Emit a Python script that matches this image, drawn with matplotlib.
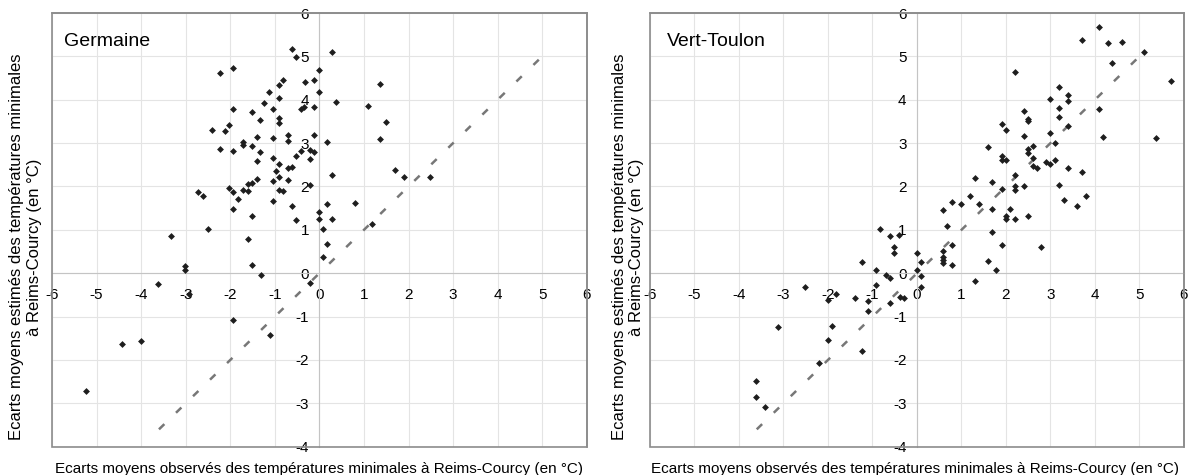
import matplotlib
matplotlib.use('Agg')
import matplotlib.pyplot as plt
from matplotlib.patches import Rectangle

plt.rcParams['font.family'] = ['Liberation Sans', 'DejaVu Sans']
plt.rcParams['axes.unicode_minus'] = False

# Germaine : ecarts observes (x) / estimes (y)
germ_x = [-0.61, -0.52, -2.23, -1.93, -0.82, -0.91, -0.32, -0.11, 0.0, -1.12,
          0.0, -0.91, -1.24, -1.93, -1.03, -1.52, -0.41, -0.34, -0.11, -0.91,
          -0.91, -1.33, -2.02, -2.42, -2.11, -0.11, -0.70, -1.41, -1.03, -1.72,
          -1.72, -0.70, -2.23, -1.52, -1.93, -1.33, -0.41, -0.22, -0.11, -0.52,
          -0.21, -1.03, -1.41, -0.91, -0.70, -0.61, -0.97, -0.91, -1.41, -1.52,
          -1.61, -1.03, -0.70, -0.22, -2.02, -1.93, -1.72, -1.61, -2.72, -2.62,
          -0.91, -0.82, -1.82, -1.03, -0.61, -1.93, -1.52, -0.52, 0.28, 1.37,
          0.38, 1.09, 1.49, 1.37, 0.17, 0.28, 1.69, 1.90, 2.49, 0.79,
          0.17, 0.0, 0.0, 0.28, 1.18, 0.09, -2.51, -3.34, -1.61, -3.01,
          -3.01, -1.52, -1.31, -3.63, -2.92, -1.93, -1.11, -4.42, -4.00, -5.23,
          0.17, 0.09, -0.22]
germ_y = [5.17, 4.98, 4.61, 4.74, 4.46, 4.35, 4.40, 4.46, 4.68, 4.19,
          4.19, 4.03, 3.93, 3.79, 3.79, 3.72, 3.79, 3.84, 3.84, 3.59,
          3.47, 3.54, 3.42, 3.31, 3.28, 3.19, 3.19, 3.14, 3.12, 3.03,
          2.96, 3.05, 2.87, 2.93, 2.82, 2.79, 2.82, 2.83, 2.79, 2.71,
          2.64, 2.66, 2.58, 2.52, 2.42, 2.46, 2.35, 2.23, 2.17, 2.09,
          2.05, 2.12, 2.14, 2.03, 1.96, 1.87, 1.93, 1.90, 1.87, 1.78,
          1.92, 1.89, 1.71, 1.66, 1.56, 1.49, 1.33, 1.23, 5.11, 4.37,
          3.95, 3.86, 3.49, 3.10, 3.03, 2.26, 2.37, 2.21, 2.21, 1.63,
          1.59, 1.42, 1.26, 1.24, 1.14, 1.01, 1.03, 0.85, 0.78, 0.16,
          0.08, 0.20, -0.05, -0.24, -0.48, -1.07, -1.43, -1.64, -1.57, -2.71,
          0.68, 0.38, -0.23]

# Vert-Toulon
vt_x = [4.09, 3.70, 4.30, 4.60, 5.10, 4.39, 2.20, 5.70, 3.19, 3.40,
        3.40, 2.99, 3.19, 4.09, 2.40, 2.50, 2.50, 3.19, 1.90, 1.99,
        3.40, 2.40, 2.99, 4.19, 5.38, 3.10, 1.59, 2.60, 2.50, 2.50,
        1.90, 1.90, 1.99, 2.60, 2.89, 2.99, 3.10, 2.60, 2.69, 3.40,
        3.70, 2.20, 1.30, 1.69, 3.19, 1.90, 2.20, 2.20, 2.40, 1.20,
        0.79, 1.00, 1.39, 0.59, 3.30, 3.60, 3.79, 1.69, 2.08, 1.99,
        1.99, 2.20, 2.50, 0.68, 1.69, 0.79, 1.90, 2.79, 0.0, 0.59,
        0.59, 0.59, 0.59, 0.10, 0.79, 1.59, 0.0, 1.78, 0.10, 1.30,
        0.10, -0.82, -0.61, -0.41, -0.52, -0.52, -1.23, -0.91, -0.70, -0.61,
        -0.91, -2.51, -1.81, -2.01, -1.40, -1.10, -0.61, -0.37, -0.30, -1.10,
        -3.12, -1.91, -2.01, -1.23, -2.21, -3.61, -3.61, -3.41]
vt_y = [5.68, 5.38, 5.32, 5.34, 5.11, 4.84, 4.65, 4.44, 4.30, 4.12,
        3.96, 4.01, 3.82, 3.79, 3.73, 3.56, 3.50, 3.61, 3.44, 3.31,
        3.40, 3.17, 3.24, 3.14, 3.12, 3.00, 2.91, 2.94, 2.87, 2.77,
        2.70, 2.61, 2.62, 2.65, 2.56, 2.51, 2.60, 2.47, 2.42, 2.42,
        2.33, 2.27, 2.19, 2.10, 2.03, 1.95, 2.01, 1.93, 2.01, 1.77,
        1.64, 1.59, 1.59, 1.45, 1.68, 1.56, 1.77, 1.49, 1.49, 1.32,
        1.24, 1.26, 1.31, 1.10, 0.94, 0.66, 0.66, 0.61, 0.46, 0.52,
        0.38, 0.31, 0.23, 0.26, 0.20, 0.29, 0.08, 0.08, -0.07, -0.18,
        -0.31, 1.01, 0.85, 0.87, 0.60, 0.47, 0.27, 0.08, -0.05, -0.11,
        -0.27, -0.31, -0.48, -0.61, -0.58, -0.65, -0.68, -0.54, -0.57, -0.88,
        -1.24, -1.22, -1.54, -1.80, -2.08, -2.49, -2.86, -3.08]

line_ends = [-3.6, 5.1]
xticks = [-6, -5, -4, -3, -2, -1, 0, 1, 2, 3, 4, 5, 6]
yticks = [-4, -3, -2, -1, 0, 1, 2, 3, 4, 5, 6]

xlab = 'Ecarts moyens observés des températures minimales à Reims-Courcy (en °C)'
ylab = 'Ecarts moyens estimés des températures minimales\nà Reims-Courcy (en °C)'

fig = plt.figure(figsize=(11.88, 4.75), dpi=100)
ax1 = fig.add_axes([0.0438, 0.0596, 0.4501, 0.913])
ax2 = fig.add_axes([0.5471, 0.0596, 0.4495, 0.913])


def panel(ax, x, y, name, tx, ylx, xlx):
    ax.set_xlim(-6, 6)
    ax.set_ylim(-4, 6)
    ax.set_xticks(xticks)
    ax.set_yticks(yticks)
    ax.grid(True, color='#e4e4e4', lw=0.8)
    ax.set_axisbelow(True)
    ax.spines['left'].set_position(('data', 0))
    ax.spines['bottom'].set_position(('data', 0))
    ax.spines['left'].set_color('#c4c4c4')
    ax.spines['bottom'].set_color('#c4c4c4')
    ax.spines['top'].set_color('#8c8c8c')
    ax.spines['right'].set_color('#8c8c8c')
    ax.spines['top'].set_linewidth(1.2)
    ax.spines['right'].set_linewidth(1.2)
    ax.add_patch(Rectangle((0, 0), 1, 1, transform=ax.transAxes, fill=False,
                           ec='#8c8c8c', lw=1.2, clip_on=False, zorder=5))
    ax.tick_params(axis='x', length=0, pad=11, labelsize=11)
    ax.tick_params(axis='y', length=0, pad=7.5, labelsize=11)
    ax.plot(line_ends, line_ends, color='#777777', lw=1.8, dashes=(3, 6.5), zorder=2)
    ax.plot(x, y, 'D', color='#1e1e1e', ms=3.5, mec='none', zorder=3)
    ax.text(tx, 0.924, name, transform=ax.transAxes, fontsize=14, va='baseline')
    ax.set_xlabel(xlab, fontsize=11)
    ax.set_ylabel(ylab, fontsize=12)
    ax.xaxis.set_label_coords(xlx, -0.035)
    ax.yaxis.set_label_coords(ylx, 0.46)


panel(ax1, germ_x, germ_y, 'Germaine', 0.022, -0.019, 0.5)
panel(ax2, vt_x, vt_y, 'Vert-Toulon', 0.031, -0.011, 0.496)

plt.savefig('out.png', dpi=100)
